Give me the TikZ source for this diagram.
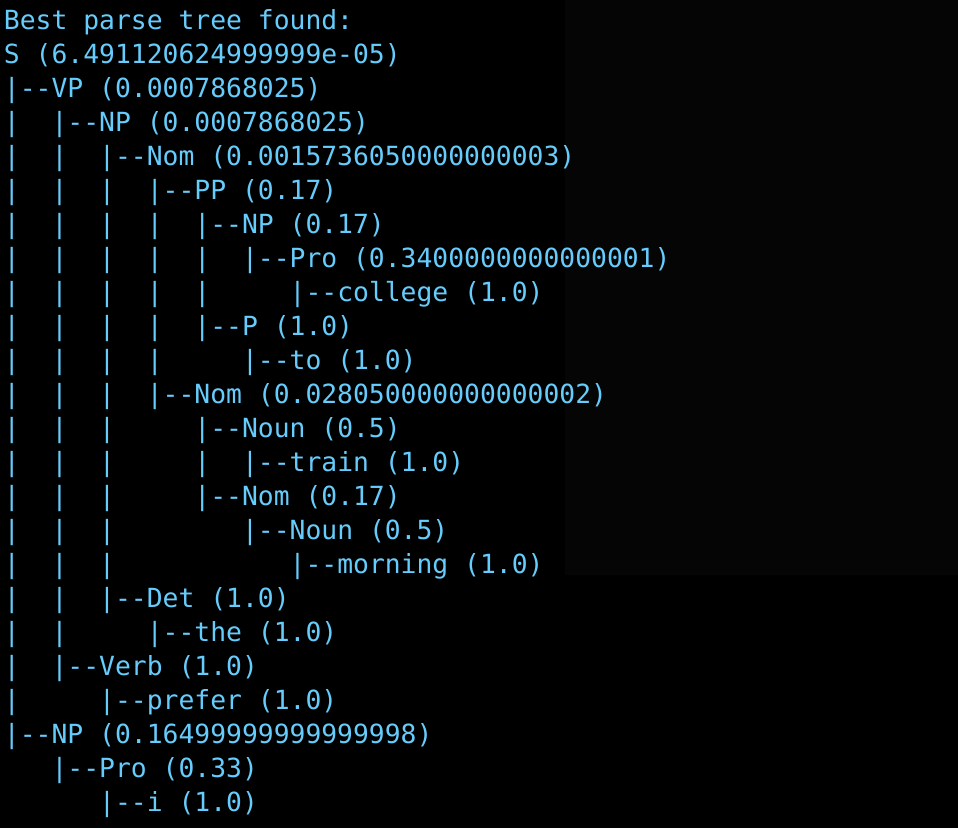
\documentclass[tikz,border=0pt]{standalone}
\usepackage{fontspec}
\setmonofont{DejaVu Sans Mono}
\definecolor{termblue}{RGB}{102,204,252}
\definecolor{termbg}{RGB}{0,0,0}
\definecolor{haze}{RGB}{5,5,5}
\newcommand{\termfont}{\ttfamily\fontsize{26.36pt}{34pt}\selectfont}
\tikzset{
  termline/.style={anchor=base west, inner sep=0pt, outer sep=0pt, text=termblue, font=\termfont},
}
\begin{document}
\begin{tikzpicture}[x=1pt,y=-1pt]
\fill[termbg] (0,0) rectangle (958,828);
\useasboundingbox (0,0) rectangle (958,828);
\fill[haze] (565,0) rectangle (958,575);
\def\lx{4}
\node[termline] (l1)  at (\lx, 29.5) {Best parse tree found:};
\node[termline] (l2)  at (\lx, 63.5) {S (6.491120624{}999999{}e-05)};
\node[termline] (l3)  at (\lx, 97.5) {|--VP (0.0007868025)};
\node[termline] (l4)  at (\lx,131.5) {|~~|--NP (0.0007868025)};
\node[termline] (l5)  at (\lx,165.5) {|~~|~~|--Nom (0.001573605{}00000{}0000{}3)};
\node[termline] (l6)  at (\lx,199.5) {|~~|~~|~~|--PP (0.17)};
\node[termline] (l7)  at (\lx,233.5) {|~~|~~|~~|~~|--NP (0.17)};
\node[termline] (l8)  at (\lx,267.5) {|~~|~~|~~|~~|~~|--Pro (0.34{}00000{}00000{}000{}1)};
\node[termline] (l9)  at (\lx,301.5) {|~~|~~|~~|~~|~~~~~|--college (1.0)};
\node[termline] (l10) at (\lx,335.5) {|~~|~~|~~|~~|--P (1.0)};
\node[termline] (l11) at (\lx,369.5) {|~~|~~|~~|~~~~~|--to (1.0)};
\node[termline] (l12) at (\lx,403.5) {|~~|~~|~~|--Nom (0.02805{}00000{}00000{}00{}2)};
\node[termline] (l13) at (\lx,437.5) {|~~|~~|~~~~~|--Noun (0.5)};
\node[termline] (l14) at (\lx,471.5) {|~~|~~|~~~~~|~~|--train (1.0)};
\node[termline] (l15) at (\lx,505.5) {|~~|~~|~~~~~|--Nom (0.17)};
\node[termline] (l16) at (\lx,539.5) {|~~|~~|~~~~~~~~|--Noun (0.5)};
\node[termline] (l17) at (\lx,573.5) {|~~|~~|~~~~~~~~~~~|--morning (1.0)};
\node[termline] (l18) at (\lx,607.5) {|~~|~~|--Det (1.0)};
\node[termline] (l19) at (\lx,641.5) {|~~|~~~~~|--the (1.0)};
\node[termline] (l20) at (\lx,675.5) {|~~|--Verb (1.0)};
\node[termline] (l21) at (\lx,709.5) {|~~~~~|--prefer (1.0)};
\node[termline] (l22) at (\lx,743.5) {|--NP (0.164{}99999{}99999{}999{}8)};
\node[termline] (l23) at (\lx,777.5) {~~~|--Pro (0.33)};
\node[termline] (l24) at (\lx,811.5) {~~~~~~|--i (1.0)};
\end{tikzpicture}
\end{document}
